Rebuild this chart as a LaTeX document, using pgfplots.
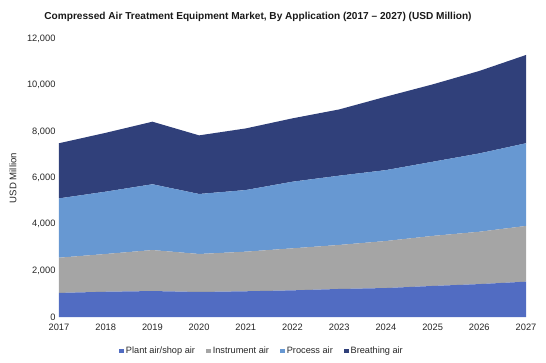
\documentclass[border=0pt]{standalone}
\usepackage{fontspec}
\setmainfont{Liberation Sans}
\usepackage{pgfplots}
\pgfplotsset{compat=1.18}
\definecolor{cPlant}{HTML}{516CC2}
\definecolor{cInstr}{HTML}{A5A5A5}
\definecolor{cProc}{HTML}{6798D2}
\definecolor{cBreath}{HTML}{30407A}
\begin{document}
\begin{tikzpicture}[x=1pt,y=1pt]
\useasboundingbox (0,0) rectangle (546,362);
\node[font=\bfseries\fontsize{10.1}{12}\selectfont, text=black!90] at (258,345) {Compressed Air Treatment Equipment Market, By Application (2017 -- 2027) (USD Million)};
\begin{axis}[
  at={(59pt,45pt)}, anchor=south west,
  width=467pt, height=278pt, scale only axis,
  xmin=2017, xmax=2027, ymin=0, ymax=12000,
  stack plots=y,
  axis line style={draw=none},
  tick style={draw=none},
  xtick={2017,2018,...,2027},
  ytick={0,2000,...,12000},
  scaled y ticks=false,
  yticklabel style={font=\fontsize{9.3}{11}\selectfont, text=black!85, /pgf/number format/.cd, 1000 sep={,}, assume math mode=true},
  xticklabel style={yshift=-3pt, font=\fontsize{9.3}{11}\selectfont, text=black!85, /pgf/number format/.cd, 1000 sep={}, assume math mode=true},
  ylabel={USD Million},
  every axis y label/.style={at={(rel axis cs:0,0.5)}, xshift=-46pt, rotate=90, anchor=center, font=\fontsize{9.6}{11}\selectfont, text=black!85},
  legend style={at={(0.4347,-0.1223)}, anchor=center, draw=none, fill=none, legend columns=4, font=\fontsize{9.2}{11}\selectfont, text=black!85, /tikz/every even column/.append style={column sep=9pt}},
  legend image code/.code={\fill[#1,draw=none] (0pt,-2.4pt) rectangle (4.8pt,2.4pt);},
]
\addplot[fill=cPlant, draw=none] coordinates {(2017,1040) (2018,1090) (2019,1120) (2020,1080) (2021,1110) (2022,1150) (2023,1210) (2024,1250) (2025,1340) (2026,1420) (2027,1525)} \closedcycle;
\addlegendentry{Plant air/shop air}
\addplot[fill=cInstr, draw=none] coordinates {(2017,1520) (2018,1630) (2019,1770) (2020,1640) (2021,1710) (2022,1815) (2023,1900) (2024,2030) (2025,2160) (2026,2260) (2027,2405)} \closedcycle;
\addlegendentry{Instrument air}
\addplot[fill=cProc, draw=none] coordinates {(2017,2560) (2018,2690) (2019,2840) (2020,2590) (2021,2660) (2022,2875) (2023,2990) (2024,3060) (2025,3200) (2026,3380) (2027,3570)} \closedcycle;
\addlegendentry{Process air}
\addplot[fill=cBreath, draw=none] coordinates {(2017,2380) (2018,2540) (2019,2700) (2020,2530) (2021,2660) (2022,2735) (2023,2860) (2024,3170) (2025,3340) (2026,3560) (2027,3810)} \closedcycle;
\addlegendentry{Breathing air}
\end{axis}
\end{tikzpicture}
\end{document}
